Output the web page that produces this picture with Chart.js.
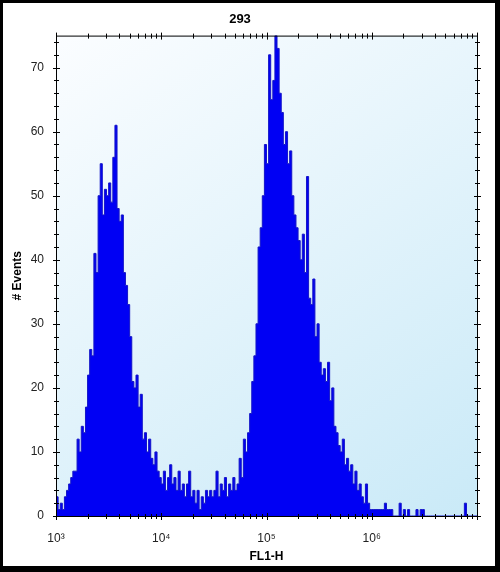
<!DOCTYPE html>
<html>
<head>
<meta charset="utf-8">
<script src="https://cdn.jsdelivr.net/npm/chart.js@4/dist/chart.umd.min.js"></script>
<style>
  html, body { margin: 0; padding: 0; background: #000; }
  #frame { position: absolute; left: 0; top: 0; width: 500px; height: 572px; background: #000; }
  #box { position: absolute; left: 3px; top: 3px; width: 492px; height: 563px; background: #fff; }
</style>
</head>
<body>
<div id="frame"><div id="box"><canvas id="histo"></canvas></div></div>
<script>
// Histogram channels: 50 bins per decade, from 10^3 to 10^7
const firstDecade = 3;
const binsPerDecade = 50;

// event counts per bin, one array per decade
const counts1e3 = [2, 3, 1, 2, 1, 3, 4, 5, 6, 7, 7, 12, 10, 14, 13, 17, 22, 26, 25, 41,
  38, 50, 55, 47, 51, 50, 52, 49, 56, 61, 48, 46, 47, 38, 36, 33, 28, 21, 20, 22,
  17, 19, 12, 13, 10, 12, 9, 8, 10, 7];
const counts1e4 = [6, 5, 7, 4, 6, 8, 5, 6, 4, 7, 4, 5, 3, 5, 7, 3, 4, 2, 4, 1,
  3, 2, 4, 3, 4, 3, 4, 7, 3, 5, 4, 6, 3, 5, 4, 6, 4, 5, 9, 6,
  12, 10, 13, 16, 21, 25, 30, 42, 45, 50];
const counts1e5 = [58, 55, 72, 65, 68, 75, 73, 66, 63, 58, 60, 55, 57, 50, 47, 45, 43, 40, 44, 38,
  53, 34, 33, 37, 28, 30, 24, 22, 23, 21, 24, 18, 20, 14, 13, 11, 10, 12, 8, 9,
  7, 8, 5, 7, 4, 5, 3, 2, 5, 2];
const counts1e6 = [1, 1, 1, 1, 1, 1, 1, 2, 1, 1, 1, 0, 0, 0, 2, 0, 1, 0, 1, 0,
  0, 0, 1, 0, 1, 1, 0, 0, 0, 0, 0, 0, 0, 0, 0, 0, 0, 0, 0, 0,
  0, 0, 0, 0, 0, 2, 0, 0, 0, 0];

const xTickValues = [1e3, 1e4, 1e5, 1e6];
const xTickLabels = ["10\u00B3", "10\u2074", "10\u2075", "10\u2076"];
const yTickValues = [0, 10, 20, 30, 40, 50, 60, 70];
const xMin = 1e3, xMax = 1e7, yMin = 0, yMax = 75;

// build the step points (left edge of every bin)
const allCounts = [].concat(counts1e3, counts1e4, counts1e5, counts1e6);
const points = allCounts.map((c, i) => ({ x: Math.pow(10, firstDecade + i / binsPerDecade), y: c }));
points.push({ x: xMax, y: allCounts[allCounts.length - 1] });

Chart.defaults.font.family = "'Liberation Sans', Arial, sans-serif";
Chart.defaults.color = "#222";

// light blue gradient behind the plot
const plotBackground = {
  id: "plotBackground",
  beforeDatasetsDraw(chart) {
    const { ctx, chartArea: a } = chart;
    const g = ctx.createLinearGradient(a.left, a.top, a.right, a.bottom + 150);
    g.addColorStop(0, "#fbfdff");
    g.addColorStop(1, "#c0e6f6");
    ctx.save();
    ctx.fillStyle = g;
    ctx.fillRect(a.left, a.top, a.right - a.left, a.bottom - a.top);
    ctx.restore();
  },
};

// axis frame with tick marks on all four sides
const axisFrame = {
  id: "axisFrame",
  afterDatasetsDraw(chart) {
    const { ctx, chartArea: a, scales } = chart;
    ctx.save();
    ctx.strokeStyle = "#000";
    ctx.lineWidth = 1;
    ctx.strokeRect(a.left + 0.5, a.top + 0.5, a.right - a.left, a.bottom - a.top);
    ctx.beginPath();
    // y ticks: major every 10, minor every 2
    for (let v = yMin; v <= yMax; v += 2) {
      const y = Math.round(scales.y.getPixelForValue(v)) + 0.5;
      const len = v % 10 === 0 ? 3 : 2;
      ctx.moveTo(a.left - len, y); ctx.lineTo(a.left + len + 1, y);
      ctx.moveTo(a.right - len, y); ctx.lineTo(a.right + len + 1, y);
    }
    // x ticks: decades and 2..9 inside each decade
    for (let d = 3; d <= 7; d++) {
      for (let m = 1; m <= 9; m++) {
        const v = m * Math.pow(10, d);
        if (v > xMax) break;
        const x = Math.round(scales.x.getPixelForValue(v)) + 0.5;
        const len = m === 1 ? 3 : 2;
        ctx.moveTo(x, a.bottom - len); ctx.lineTo(x, a.bottom + len + 1);
        ctx.moveTo(x, a.top - len); ctx.lineTo(x, a.top + len + 1);
      }
    }
    ctx.stroke();
    ctx.restore();
  },
};

new Chart(document.getElementById("histo"), {
  type: "line",
  data: {
    datasets: [
      {
        label: "293",
        data: points,
        stepped: "after",
        fill: "origin",
        backgroundColor: "#0000f4",
        borderColor: "#1414c8",
        borderWidth: 1,
        pointRadius: 0,
      },
    ],
  },
  options: {
    responsive: true,
    maintainAspectRatio: false,
    animation: false,
    layout: { padding: { left: 0, right: 18, top: 0, bottom: 0 } },
    plugins: {
      legend: { display: false },
      tooltip: { enabled: false },
      title: {
        display: true,
        text: "293",
        color: "#000",
        font: { size: 13, weight: "bold" },
        padding: { top: 9, bottom: 8 },
      },
    },
    scales: {
      x: {
        type: "logarithmic",
        min: xMin,
        max: xMax,
        grid: { display: false, drawTicks: false },
        border: { display: false },
        afterBuildTicks: (s) => { s.ticks = xTickValues.map((v) => ({ value: v, major: true })); },
        afterFit: (s) => { s.height = 50; },
        ticks: {
          autoSkip: false,
          maxRotation: 0,
          padding: 15,
          font: { size: 12 },
          callback: (v, i) => xTickLabels[i],
        },
        title: {
          display: true,
          text: "FL1-H",
          color: "#000",
          font: { size: 12, weight: "bold" },
          padding: { top: 0, bottom: 2 },
        },
      },
      y: {
        min: yMin,
        max: yMax,
        grid: { display: false, drawTicks: false },
        border: { display: false },
        afterBuildTicks: (s) => { s.ticks = yTickValues.map((v) => ({ value: v })); },
        afterFit: (s) => { s.width = 53; },
        ticks: { padding: 12, font: { size: 12 } },
        title: {
          display: true,
          text: "# Events",
          color: "#000",
          font: { size: 12, weight: "bold" },
          padding: { top: 7, bottom: 0 },
        },
      },
    },
  },
  plugins: [plotBackground, axisFrame],
});
</script>
</body>
</html>
